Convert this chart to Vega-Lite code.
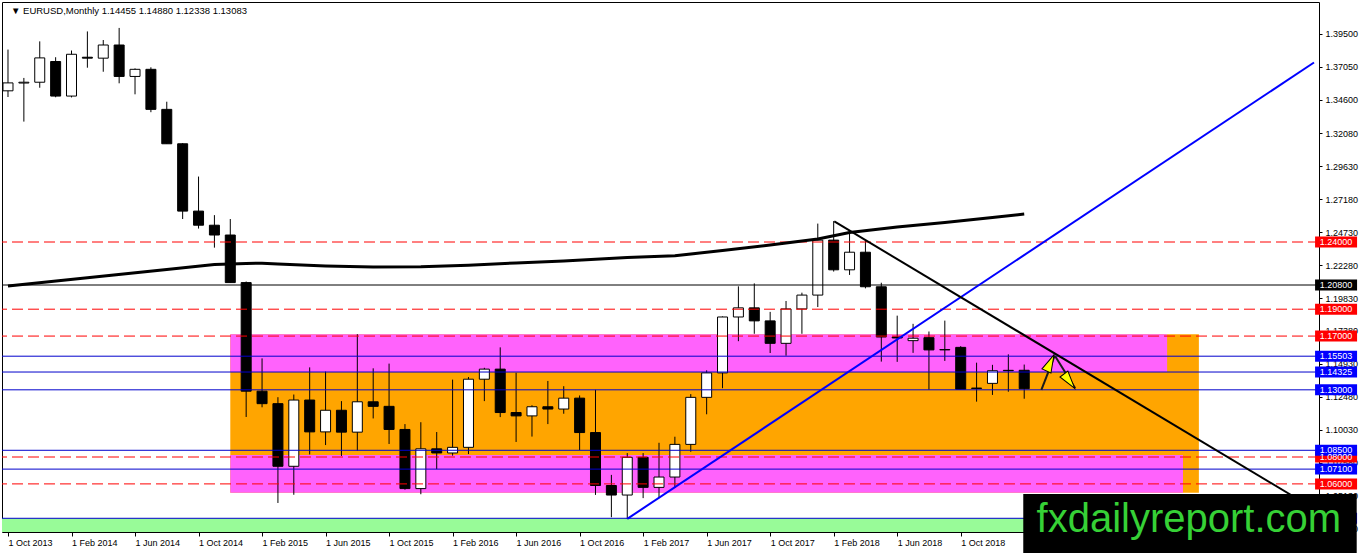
{
  "$schema": "https://vega.github.io/schema/vega-lite/v6.json",
  "description": "EURUSD monthly candles with drawn levels, zones and trend lines.",
  "width": 1317,
  "height": 530,
  "autosize": {"type": "none"},
  "padding": {"left": 2, "top": 2, "right": 43, "bottom": 21},
  "background": "#ffffff",
  "config": {
    "view": {"stroke": "#000000", "strokeWidth": 1},
    "font": "Liberation Sans"
  },
  "datasets": {
    "candles": [
      {"m": 0, "o": 1.3525, "h": 1.3832, "l": 1.3479, "c": 1.3584},
      {"m": 1, "o": 1.3583, "h": 1.3621, "l": 1.3296, "c": 1.3589},
      {"m": 2, "o": 1.3589, "h": 1.3893, "l": 1.3548, "c": 1.3770},
      {"m": 3, "o": 1.3743, "h": 1.3775, "l": 1.3477, "c": 1.3486},
      {"m": 4, "o": 1.3486, "h": 1.3825, "l": 1.3476, "c": 1.3797},
      {"m": 5, "o": 1.3775, "h": 1.3967, "l": 1.3697, "c": 1.3768},
      {"m": 6, "o": 1.3768, "h": 1.3903, "l": 1.3667, "c": 1.3866},
      {"m": 7, "o": 1.3866, "h": 1.3993, "l": 1.3581, "c": 1.3632},
      {"m": 8, "o": 1.3632, "h": 1.3692, "l": 1.3499, "c": 1.3685},
      {"m": 9, "o": 1.3685, "h": 1.3700, "l": 1.3366, "c": 1.3387},
      {"m": 10, "o": 1.3387, "h": 1.3444, "l": 1.3130, "c": 1.3131},
      {"m": 11, "o": 1.3131, "h": 1.3136, "l": 1.2571, "c": 1.2630},
      {"m": 12, "o": 1.2630, "h": 1.2887, "l": 1.2500, "c": 1.2525},
      {"m": 13, "o": 1.2525, "h": 1.2600, "l": 1.2358, "c": 1.2452},
      {"m": 14, "o": 1.2452, "h": 1.2571, "l": 1.2097, "c": 1.2098},
      {"m": 15, "o": 1.2098, "h": 1.2106, "l": 1.1098, "c": 1.1290},
      {"m": 16, "o": 1.1290, "h": 1.1534, "l": 1.1170, "c": 1.1197},
      {"m": 17, "o": 1.1197, "h": 1.1245, "l": 1.0458, "c": 1.0731},
      {"m": 18, "o": 1.0731, "h": 1.1265, "l": 1.0519, "c": 1.1224},
      {"m": 19, "o": 1.1224, "h": 1.1467, "l": 1.0819, "c": 1.0987},
      {"m": 20, "o": 1.0987, "h": 1.1436, "l": 1.0889, "c": 1.1148},
      {"m": 21, "o": 1.1148, "h": 1.1216, "l": 1.0808, "c": 1.0985},
      {"m": 22, "o": 1.0985, "h": 1.1714, "l": 1.0847, "c": 1.1211},
      {"m": 23, "o": 1.1211, "h": 1.1460, "l": 1.1087, "c": 1.1177},
      {"m": 24, "o": 1.1177, "h": 1.1495, "l": 1.0897, "c": 1.1005},
      {"m": 25, "o": 1.1005, "h": 1.1045, "l": 1.0557, "c": 1.0565},
      {"m": 26, "o": 1.0565, "h": 1.1059, "l": 1.0523, "c": 1.0861},
      {"m": 27, "o": 1.0861, "h": 1.0986, "l": 1.0710, "c": 1.0830},
      {"m": 28, "o": 1.0830, "h": 1.1376, "l": 1.0810, "c": 1.0872},
      {"m": 29, "o": 1.0872, "h": 1.1395, "l": 1.0822, "c": 1.1379},
      {"m": 30, "o": 1.1379, "h": 1.1464, "l": 1.1216, "c": 1.1454},
      {"m": 31, "o": 1.1454, "h": 1.1616, "l": 1.1097, "c": 1.1131},
      {"m": 32, "o": 1.1131, "h": 1.1427, "l": 1.0912, "c": 1.1106},
      {"m": 33, "o": 1.1106, "h": 1.1185, "l": 1.0952, "c": 1.1174},
      {"m": 34, "o": 1.1174, "h": 1.1366, "l": 1.1045, "c": 1.1157},
      {"m": 35, "o": 1.1157, "h": 1.1327, "l": 1.1122, "c": 1.1238},
      {"m": 36, "o": 1.1238, "h": 1.1258, "l": 1.0852, "c": 1.0982},
      {"m": 37, "o": 1.0982, "h": 1.1300, "l": 1.0518, "c": 1.0588},
      {"m": 38, "o": 1.0588, "h": 1.0667, "l": 1.0352, "c": 1.0517},
      {"m": 39, "o": 1.0517, "h": 1.0829, "l": 1.0340, "c": 1.0798},
      {"m": 40, "o": 1.0798, "h": 1.0829, "l": 1.0494, "c": 1.0574},
      {"m": 41, "o": 1.0574, "h": 1.0906, "l": 1.0494, "c": 1.0651},
      {"m": 42, "o": 1.0651, "h": 1.0951, "l": 1.0569, "c": 1.0894},
      {"m": 43, "o": 1.0894, "h": 1.1268, "l": 1.0839, "c": 1.1244},
      {"m": 44, "o": 1.1244, "h": 1.1445, "l": 1.1118, "c": 1.1426},
      {"m": 45, "o": 1.1426, "h": 1.1846, "l": 1.1312, "c": 1.1842},
      {"m": 46, "o": 1.1842, "h": 1.2070, "l": 1.1662, "c": 1.1910},
      {"m": 47, "o": 1.1910, "h": 1.2092, "l": 1.1717, "c": 1.1813},
      {"m": 48, "o": 1.1813, "h": 1.1880, "l": 1.1574, "c": 1.1646},
      {"m": 49, "o": 1.1646, "h": 1.1961, "l": 1.1554, "c": 1.1902},
      {"m": 50, "o": 1.1902, "h": 1.2023, "l": 1.1717, "c": 1.2005},
      {"m": 51, "o": 1.2005, "h": 1.2537, "l": 1.1916, "c": 1.2414},
      {"m": 52, "o": 1.2414, "h": 1.2556, "l": 1.2180, "c": 1.2193},
      {"m": 53, "o": 1.2193, "h": 1.2476, "l": 1.2155, "c": 1.2324},
      {"m": 54, "o": 1.2324, "h": 1.2414, "l": 1.2055, "c": 1.2067},
      {"m": 55, "o": 1.2067, "h": 1.2097, "l": 1.1510, "c": 1.1693},
      {"m": 56, "o": 1.1693, "h": 1.1852, "l": 1.1508, "c": 1.1686},
      {"m": 57, "o": 1.1666, "h": 1.1791, "l": 1.1575, "c": 1.1684},
      {"m": 58, "o": 1.1688, "h": 1.1734, "l": 1.1301, "c": 1.1597},
      {"m": 59, "o": 1.1597, "h": 1.1815, "l": 1.1515, "c": 1.1600},
      {"m": 60, "o": 1.1616, "h": 1.1625, "l": 1.1302, "c": 1.1304},
      {"m": 61, "o": 1.1313, "h": 1.1502, "l": 1.1212, "c": 1.1310},
      {"m": 62, "o": 1.1348, "h": 1.1486, "l": 1.1262, "c": 1.1442},
      {"m": 63, "o": 1.1445, "h": 1.1564, "l": 1.1286, "c": 1.1442},
      {"m": 64, "o": 1.14455, "h": 1.14880, "l": 1.12338, "c": 1.13083}
    ],
    "ma": [
      {"m": 0, "v": 1.2073}, {"m": 5, "v": 1.2134}, {"m": 10, "v": 1.2195},
      {"m": 13, "v": 1.2232}, {"m": 15, "v": 1.2240}, {"m": 16, "v": 1.2242},
      {"m": 17, "v": 1.2236}, {"m": 20, "v": 1.2222}, {"m": 23, "v": 1.2214},
      {"m": 26, "v": 1.2215}, {"m": 29, "v": 1.2227}, {"m": 32, "v": 1.2244},
      {"m": 35, "v": 1.2259}, {"m": 39, "v": 1.2285}, {"m": 42, "v": 1.2298},
      {"m": 45, "v": 1.2336}, {"m": 48, "v": 1.2378}, {"m": 51, "v": 1.2422},
      {"m": 53, "v": 1.2471}, {"m": 56, "v": 1.2512}, {"m": 59, "v": 1.2545},
      {"m": 62, "v": 1.2583}, {"m": 64, "v": 1.2608}
    ],
    "boxes": [
      {"zone": "box", "m1": 14, "m2": 75, "p1": 1.1714, "p2": 1.0535},
      {"zone": "upper", "m1": 14, "m2": 73, "p1": 1.1714, "p2": 1.14325},
      {"zone": "lower", "m1": 14, "m2": 74, "p1": 1.0815, "p2": 1.0535},
      {"zone": "floor", "m1": -1, "m2": 90, "p1": 1.0344, "p2": 1.0}
    ],
    "levels": [
      {"p": 1.24, "kind": "key"},
      {"p": 1.208, "kind": "pivot"},
      {"p": 1.19, "kind": "key"},
      {"p": 1.17, "kind": "key"},
      {"p": 1.15503, "kind": "zone"},
      {"p": 1.14325, "kind": "zone"},
      {"p": 1.13, "kind": "zone"},
      {"p": 1.08, "kind": "key"},
      {"p": 1.085, "kind": "zone"},
      {"p": 1.071, "kind": "zone"},
      {"p": 1.06, "kind": "key"},
      {"p": 1.0344, "kind": "zone"}
    ],
    "trends": [
      {"line": "up", "m": 39, "p": 1.0340},
      {"line": "up", "m": 82.25, "p": 1.3736},
      {"line": "down", "m": 52.04, "p": 1.2553},
      {"line": "down", "m": 82.25, "p": 1.0415}
    ],
    "arrows": [
      {"arrow": "a", "m": 65.08, "p": 1.1299},
      {"arrow": "a", "m": 65.92, "p": 1.1554},
      {"arrow": "b", "m": 65.94, "p": 1.1552},
      {"arrow": "b", "m": 67.21, "p": 1.1311}
    ],
    "heads": [
      {"m": 65.64, "p": 1.1501, "heading": 25},
      {"m": 66.84, "p": 1.1364, "heading": 143}
    ]
  },
  "layer": [
    {
      "data": {"name": "boxes"},
      "mark": {"type": "rect", "clip": true},
      "encoding": {
        "x": {
          "field": "m1", "type": "quantitative", "title": null,
          "scale": {"domain": [-0.0625, 82.25], "nice": false, "zero": false},
          "axis": {
            "orient": "bottom",
            "values": [0, 4, 8, 12, 16, 20, 24, 28, 32, 36, 40, 44, 48, 52, 56, 60],
            "labelExpr": "['1 Oct 2013','1 Feb 2014','1 Jun 2014','1 Oct 2014','1 Feb 2015','1 Jun 2015','1 Oct 2015','1 Feb 2016','1 Jun 2016','1 Oct 2016','1 Feb 2017','1 Jun 2017','1 Oct 2017','1 Feb 2018','1 Jun 2018','1 Oct 2018'][datum.value / 4]",
            "domain": false, "grid": false,
            "tickSize": 4, "tickColor": "#000000",
            "labelAlign": "left", "labelBaseline": "middle", "labelPadding": 6, "labelDx": 1,
            "labelFont": "Liberation Sans", "labelFontSize": 9, "labelColor": "#000000",
            "labelOverlap": false, "labelBound": false, "labelFlush": false
          }
        },
        "x2": {"field": "m2"},
        "y": {
          "field": "p1", "type": "quantitative", "title": null,
          "scale": {"domain": [1.0242, 1.4186], "nice": false, "zero": false},
          "axis": {
            "orient": "right",
            "values": [1.395, 1.3705, 1.346, 1.3208, 1.2963, 1.2718, 1.2473, 1.2228, 1.1983, 1.1738, 1.1493, 1.1248, 1.1003, 1.0758, 1.0513, 1.0268],
            "format": ".5f",
            "tickCount": 16,
            "domain": false, "grid": false,
            "tickSize": 3, "tickColor": "#000000",
            "labelPadding": 3,
            "labelFont": "Liberation Sans", "labelFontSize": 9, "labelColor": "#000000",
            "labelOverlap": false, "labelBound": false, "labelFlush": false
          }
        },
        "y2": {"field": "p2"},
        "fill": {
          "field": "zone", "type": "nominal", "legend": null,
          "scale": {"domain": ["box", "upper", "lower", "floor"], "range": ["#ffa500", "#ff62fc", "#ff62fc", "#98fb98"]}
        }
      }
    },
    {
      "data": {"name": "candles"},
      "mark": {"type": "rule", "color": "#000000", "strokeWidth": 1, "clip": true},
      "encoding": {
        "x": {"field": "m", "type": "quantitative", "title": null, "scale": {"domain": [-0.0625, 82.25], "nice": false, "zero": false}},
        "y": {"field": "l", "type": "quantitative", "title": null, "scale": {"domain": [1.0242, 1.4186], "nice": false, "zero": false}},
        "y2": {"field": "h"}
      }
    },
    {
      "data": {"name": "candles"},
      "mark": {"type": "bar", "width": 10, "stroke": "#000000", "strokeWidth": 1, "clip": true},
      "encoding": {
        "x": {"field": "m", "type": "quantitative", "title": null, "scale": {"domain": [-0.0625, 82.25], "nice": false, "zero": false}},
        "y": {"field": "o", "type": "quantitative", "title": null, "scale": {"domain": [1.0242, 1.4186], "nice": false, "zero": false}},
        "y2": {"field": "c"},
        "fill": {"condition": {"test": "datum.c > datum.o", "value": "#ffffff"}, "value": "#000000"}
      }
    },
    {
      "data": {"name": "levels"},
      "mark": {"type": "rule", "strokeWidth": 1, "clip": true},
      "encoding": {
        "y": {"field": "p", "type": "quantitative", "title": null, "scale": {"domain": [1.0242, 1.4186], "nice": false, "zero": false}},
        "stroke": {
          "field": "kind", "type": "nominal", "legend": null,
          "scale": {"domain": ["key", "zone", "pivot"], "range": ["#ff0000", "#0000cc", "#000000"]}
        },
        "strokeDash": {
          "field": "kind", "type": "nominal", "legend": null,
          "scale": {"domain": ["key", "zone", "pivot"], "range": [[11, 5], [1, 0], [1, 0]]}
        }
      }
    },
    {
      "data": {"name": "ma"},
      "mark": {"type": "line", "color": "#000000", "strokeWidth": 3, "clip": true},
      "encoding": {
        "x": {"field": "m", "type": "quantitative", "title": null, "scale": {"domain": [-0.0625, 82.25], "nice": false, "zero": false}},
        "y": {"field": "v", "type": "quantitative", "title": null, "scale": {"domain": [1.0242, 1.4186], "nice": false, "zero": false}}
      }
    },
    {
      "data": {"name": "trends"},
      "mark": {"type": "line", "strokeWidth": 2, "clip": true},
      "encoding": {
        "x": {"field": "m", "type": "quantitative", "title": null, "scale": {"domain": [-0.0625, 82.25], "nice": false, "zero": false}},
        "y": {"field": "p", "type": "quantitative", "title": null, "scale": {"domain": [1.0242, 1.4186], "nice": false, "zero": false}},
        "detail": {"field": "line"},
        "stroke": {
          "field": "line", "type": "nominal", "legend": null,
          "scale": {"domain": ["up", "down"], "range": ["#0000ff", "#000000"]}
        }
      }
    },
    {
      "data": {"name": "arrows"},
      "mark": {"type": "line", "color": "#1a1a1a", "strokeWidth": 2, "clip": true},
      "encoding": {
        "x": {"field": "m", "type": "quantitative", "title": null, "scale": {"domain": [-0.0625, 82.25], "nice": false, "zero": false}},
        "y": {"field": "p", "type": "quantitative", "title": null, "scale": {"domain": [1.0242, 1.4186], "nice": false, "zero": false}},
        "detail": {"field": "arrow"}
      }
    },
    {
      "data": {"name": "heads"},
      "mark": {
        "type": "point", "shape": "M0,-1L0.55,1L-0.55,1Z", "size": 324,
        "filled": true, "fill": "#ffff00", "stroke": "#000000", "strokeWidth": 1, "opacity": 1, "clip": true
      },
      "encoding": {
        "x": {"field": "m", "type": "quantitative", "title": null, "scale": {"domain": [-0.0625, 82.25], "nice": false, "zero": false}},
        "y": {"field": "p", "type": "quantitative", "title": null, "scale": {"domain": [1.0242, 1.4186], "nice": false, "zero": false}},
        "angle": {"field": "heading", "type": "quantitative", "scale": null}
      }
    },
    {
      "data": {"name": "levels"},
      "mark": {"type": "rect", "width": 42, "height": 11, "clip": false},
      "encoding": {
        "x": {"datum": 83.64, "type": "quantitative", "scale": {"domain": [-0.0625, 82.25], "nice": false, "zero": false}},
        "y": {"field": "p", "type": "quantitative", "title": null, "scale": {"domain": [1.0242, 1.4186], "nice": false, "zero": false}},
        "fill": {
          "field": "kind", "type": "nominal", "legend": null,
          "scale": {"domain": ["key", "zone", "pivot"], "range": ["#ff0000", "#0000ff", "#000000"]}
        }
      }
    },
    {
      "data": {"name": "levels"},
      "mark": {"type": "text", "color": "#ffffff", "font": "Liberation Sans", "fontSize": 9, "align": "center", "baseline": "middle", "clip": false},
      "encoding": {
        "x": {"datum": 83.64, "type": "quantitative", "scale": {"domain": [-0.0625, 82.25], "nice": false, "zero": false}},
        "y": {"field": "p", "type": "quantitative", "title": null, "scale": {"domain": [1.0242, 1.4186], "nice": false, "zero": false}},
        "text": {"field": "p", "type": "quantitative", "format": ".5f"}
      }
    },
    {
      "data": {"values": [{}]},
      "mark": {"type": "text", "color": "#000000", "font": "Liberation Sans", "fontSize": 9.5, "align": "left", "baseline": "middle", "dx": 4, "dy": 9, "clip": false},
      "encoding": {
        "x": {"datum": -0.0625, "type": "quantitative", "scale": {"domain": [-0.0625, 82.25], "nice": false, "zero": false}},
        "y": {"datum": 1.4186, "type": "quantitative", "scale": {"domain": [1.0242, 1.4186], "nice": false, "zero": false}},
        "text": {"value": "▼ EURUSD,Monthly  1.14455 1.14880 1.12338 1.13083"}
      }
    },
    {
      "data": {"values": [{}]},
      "mark": {"type": "rect", "color": "#000000", "clip": false},
      "encoding": {
        "x": {"datum": 63.94, "type": "quantitative", "scale": {"domain": [-0.0625, 82.25], "nice": false, "zero": false}},
        "x2": {"datum": 84.94},
        "y": {"datum": 1.0525, "type": "quantitative", "scale": {"domain": [1.0242, 1.4186], "nice": false, "zero": false}},
        "y2": {"datum": 1.0086}
      }
    },
    {
      "data": {"values": [{}]},
      "mark": {"type": "text", "color": "#36d136", "font": "Liberation Sans", "fontSize": 40, "align": "center", "baseline": "alphabetic", "clip": false},
      "encoding": {
        "x": {"datum": 74.37, "type": "quantitative", "scale": {"domain": [-0.0625, 82.25], "nice": false, "zero": false}},
        "y": {"datum": 1.0245, "type": "quantitative", "scale": {"domain": [1.0242, 1.4186], "nice": false, "zero": false}},
        "text": {"value": "fxdailyreport.com"}
      }
    }
  ],
  "resolve": {"scale": {"fill": "independent", "stroke": "independent", "strokeDash": "independent"}}
}
